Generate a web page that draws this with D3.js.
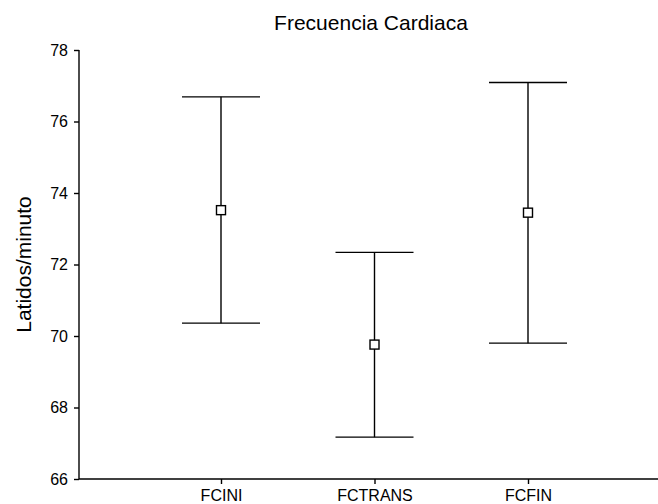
<!DOCTYPE html>
<html>
<head>
<meta charset="utf-8">
<script src="https://cdn.jsdelivr.net/npm/d3@7"></script>
<style>
  body { margin: 0; background: #fff; }
  svg { display: block; font-family: "Liberation Sans", Arial, sans-serif; }
</style>
</head>
<body>
<div id="chart"></div>
<script>
const categories = ["FCINI", "FCTRANS", "FCFIN"];
const means = [73.52, 69.76, 73.45];
const lower = [70.36, 67.17, 69.80];
const upper = [76.69, 72.34, 77.09];
const yTicks = [66, 68, 70, 72, 74, 76, 78];

const width = 658, height = 504;
const svg = d3.select("#chart").append("svg")
    .attr("width", width)
    .attr("height", height);

const axisX = 79, axisBottom = 479, axisTop = 50;

const x = d3.scalePoint()
    .domain(categories)
    .range([221, 528]);

const y = d3.scaleLinear()
    .domain([66, 78])
    .range([axisBottom, axisTop]);

// title
svg.append("text")
    .attr("x", 371)
    .attr("y", 29.5)
    .attr("text-anchor", "middle")
    .attr("font-size", 21)
    .text("Frecuencia Cardiaca");

// y axis
const yAxis = svg.append("g")
    .attr("transform", `translate(${axisX},0)`)
    .call(d3.axisLeft(y).tickValues(yTicks).tickSize(5).tickPadding(6).tickFormat(d3.format("d")));
yAxis.select(".domain").attr("d", `M0,${axisTop}V${axisBottom}`);

// x axis
const xAxis = svg.append("g")
    .attr("transform", `translate(0,${axisBottom})`)
    .call(d3.axisBottom(x).tickSize(5).tickPadding(6));
xAxis.select(".domain").attr("d", `M${axisX},0H${width}`);

svg.selectAll(".tick text").attr("font-size", 16).attr("fill", "#000").attr("font-family", null);
svg.selectAll(".domain, .tick line").attr("stroke", "#000").attr("stroke-width", 1.4);

// y label
svg.append("text")
    .attr("transform", `translate(24,${(axisTop + axisBottom) / 2}) rotate(-90)`)
    .attr("text-anchor", "middle")
    .attr("dy", "0.35em")
    .attr("font-size", 21)
    .text("Latidos/minuto");

// error bars
const data = categories.map((c, i) => ({ c, m: means[i], lo: lower[i], hi: upper[i] }));
const capW = 39;

const bars = svg.append("g").selectAll("g")
    .data(data)
    .join("g")
    .attr("stroke", "#000")
    .attr("stroke-width", 1.4);

bars.append("line")
    .attr("x1", d => x(d.c)).attr("x2", d => x(d.c))
    .attr("y1", d => y(d.hi)).attr("y2", d => y(d.lo));
bars.append("line")
    .attr("x1", d => x(d.c) - capW).attr("x2", d => x(d.c) + capW)
    .attr("y1", d => y(d.hi)).attr("y2", d => y(d.hi));
bars.append("line")
    .attr("x1", d => x(d.c) - capW).attr("x2", d => x(d.c) + capW)
    .attr("y1", d => y(d.lo)).attr("y2", d => y(d.lo));
bars.append("rect")
    .attr("x", d => x(d.c) - 4.5).attr("y", d => y(d.m) - 4.5)
    .attr("width", 9).attr("height", 9)
    .attr("fill", "#fff");
</script>
</body>
</html>
